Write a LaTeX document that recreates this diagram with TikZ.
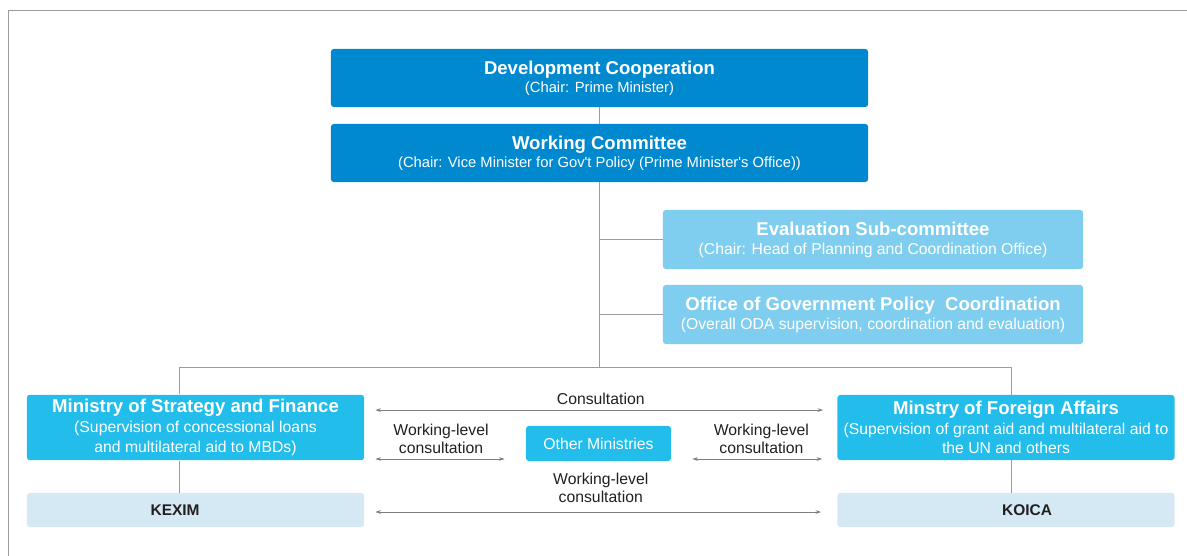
\documentclass[tikz,border=0pt]{standalone}
\usepackage{xcolor}
\usepackage{fontspec}
\setmainfont{Liberation Sans}
\usepackage{tikz}
\usetikzlibrary{arrows.meta}
\definecolor{chaircolor}{HTML}{0089CF}
\definecolor{officecolor}{HTML}{7FCEF0}
\definecolor{ministrycolor}{HTML}{22BDEB}
\definecolor{agencycolor}{HTML}{D5E9F5}
\definecolor{linkcolor}{HTML}{9C9C9C}
\definecolor{arrowcolor}{HTML}{7F7F7F}
\definecolor{inkcolor}{HTML}{231F20}
\newcommand{\unittitle}[1]{{\fontsize{13.2}{16}\selectfont\bfseries #1}}
\tikzset{
  chairbox/.style={rectangle, rounded corners=2pt, fill=chaircolor, text=white, align=center, inner xsep=2pt, minimum width=13.425cm, minimum height=1.45cm, font=\fontsize{10.5}{13}\selectfont},
  officebox/.style={chairbox, fill=officecolor, minimum width=10.5cm, minimum height=1.475cm, font=\fontsize{11.2}{13.5}\selectfont},
  ministrybox/.style={chairbox, fill=ministrycolor, minimum width=8.425cm, minimum height=1.625cm, font=\fontsize{11.2}{14}\selectfont},
  agencybox/.style={rectangle, rounded corners=2pt, fill=agencycolor, minimum width=8.425cm, minimum height=0.85cm},
  agencyname/.style={text=inkcolor, font=\fontsize{11}{13}\selectfont\bfseries},
  link/.style={draw=linkcolor, line width=0.7pt},
  twoway/.style={draw=arrowcolor, line width=0.5pt, {Stealth[length=4pt,width=2.6pt]}-{Stealth[length=4pt,width=2.6pt]}},
  note/.style={text=inkcolor, align=center, font=\fontsize{11.2}{12.8}\selectfont},
}
\begin{document}
\begin{tikzpicture}[x=0.025cm, y=-0.025cm]%
\useasboundingbox (0,0) rectangle (1187,556);%
\draw[draw=linkcolor, line width=0.8pt] (8,10.5) -- (1187,10.5);%
\draw[draw=linkcolor, line width=0.8pt] (8.5,10) -- (8.5,556);%
\node[chairbox] (council) at (599.5,78) {\unittitle{Development Cooperation}\\(Chair: Prime Minister)};%
\node[chairbox] (committee) at (599.5,153) {\unittitle{Working Committee}\\(Chair: Vice Minister for Gov\textquotesingle t Policy (Prime Minister\textquotesingle s Office))};%
\node[officebox] (evaluation) at (873,239.5) {\unittitle{Evaluation Sub-committee}\\(Chair: Head of Planning and Coordination Office)};%
\node[officebox] (policy) at (873,314.5) {\unittitle{Office of Government Policy\ \ Coordination}\\(Overall ODA supervision, coordination and evaluation)};%
\node[ministrybox] (finance) at (195.5,427.5) {\unittitle{Ministry of Strategy and Finance}\\(Supervision of concessional loans\\and multilateral aid to MBDs)};%
\node[ministrybox] (foreign) at (1006,427.5) {\unittitle{Minstry of Foreign Affairs}\\(Supervision of grant aid and multilateral aid to\\the UN and others};%
\node[ministrybox, minimum width=3.625cm, minimum height=0.875cm] (others) at (598.5,443.5) {Other Ministries};%
\node[agencybox, label={[agencyname, xshift=-0.51cm]center:KEXIM}] (kexim) at (195.5,510) {};%
\node[agencybox, label={[agencyname, xshift=0.525cm]center:KOICA}] (koica) at (1006,510) {};%
\coordinate (bus) at (599.5,367);%
\coordinate (leftdrop) at (179,367);%
\coordinate (rightdrop) at (1011,367);%
\draw[link] (council) -- (committee);%
\draw[link] (committee.south) -- (bus);%
\draw[link] (evaluation.west) -- (evaluation.west -| committee.south);%
\draw[link] (policy.west) -- (policy.west -| committee.south);%
\draw[link] (leftdrop |- finance.north) -- (leftdrop) -- (rightdrop) -- (rightdrop |- foreign.north);%
\draw[link] (leftdrop |- finance.south) -- (leftdrop |- kexim.north);%
\draw[link] (rightdrop |- foreign.south) -- (rightdrop |- koica.north);%
\draw[twoway, shorten <=0.275cm, shorten >=0.35cm] ([yshift=0.435cm]finance.east) -- node[note, above]{Consultation} ([yshift=0.435cm]foreign.west);%
\draw[twoway, shorten <=0.275cm, shorten >=0.525cm] ([yshift=-0.7875cm]finance.east) -- node[note, above, xshift=-0.1cm]{Working-level\\consultation} ([yshift=-0.7875cm]finance.east -| others.west);%
\draw[twoway, shorten <=0.525cm, shorten >=0.375cm] ([yshift=-0.7875cm]foreign.west -| others.east) -- node[note, above, xshift=0.18cm]{Working-level\\consultation} ([yshift=-0.7875cm]foreign.west);%
\draw[twoway, shorten <=0.275cm, shorten >=0.4cm] ([yshift=-0.05cm]kexim.east) -- node[note, above=3pt]{Working-level\\consultation} ([yshift=-0.05cm]koica.west);%
\end{tikzpicture}
\end{document}
